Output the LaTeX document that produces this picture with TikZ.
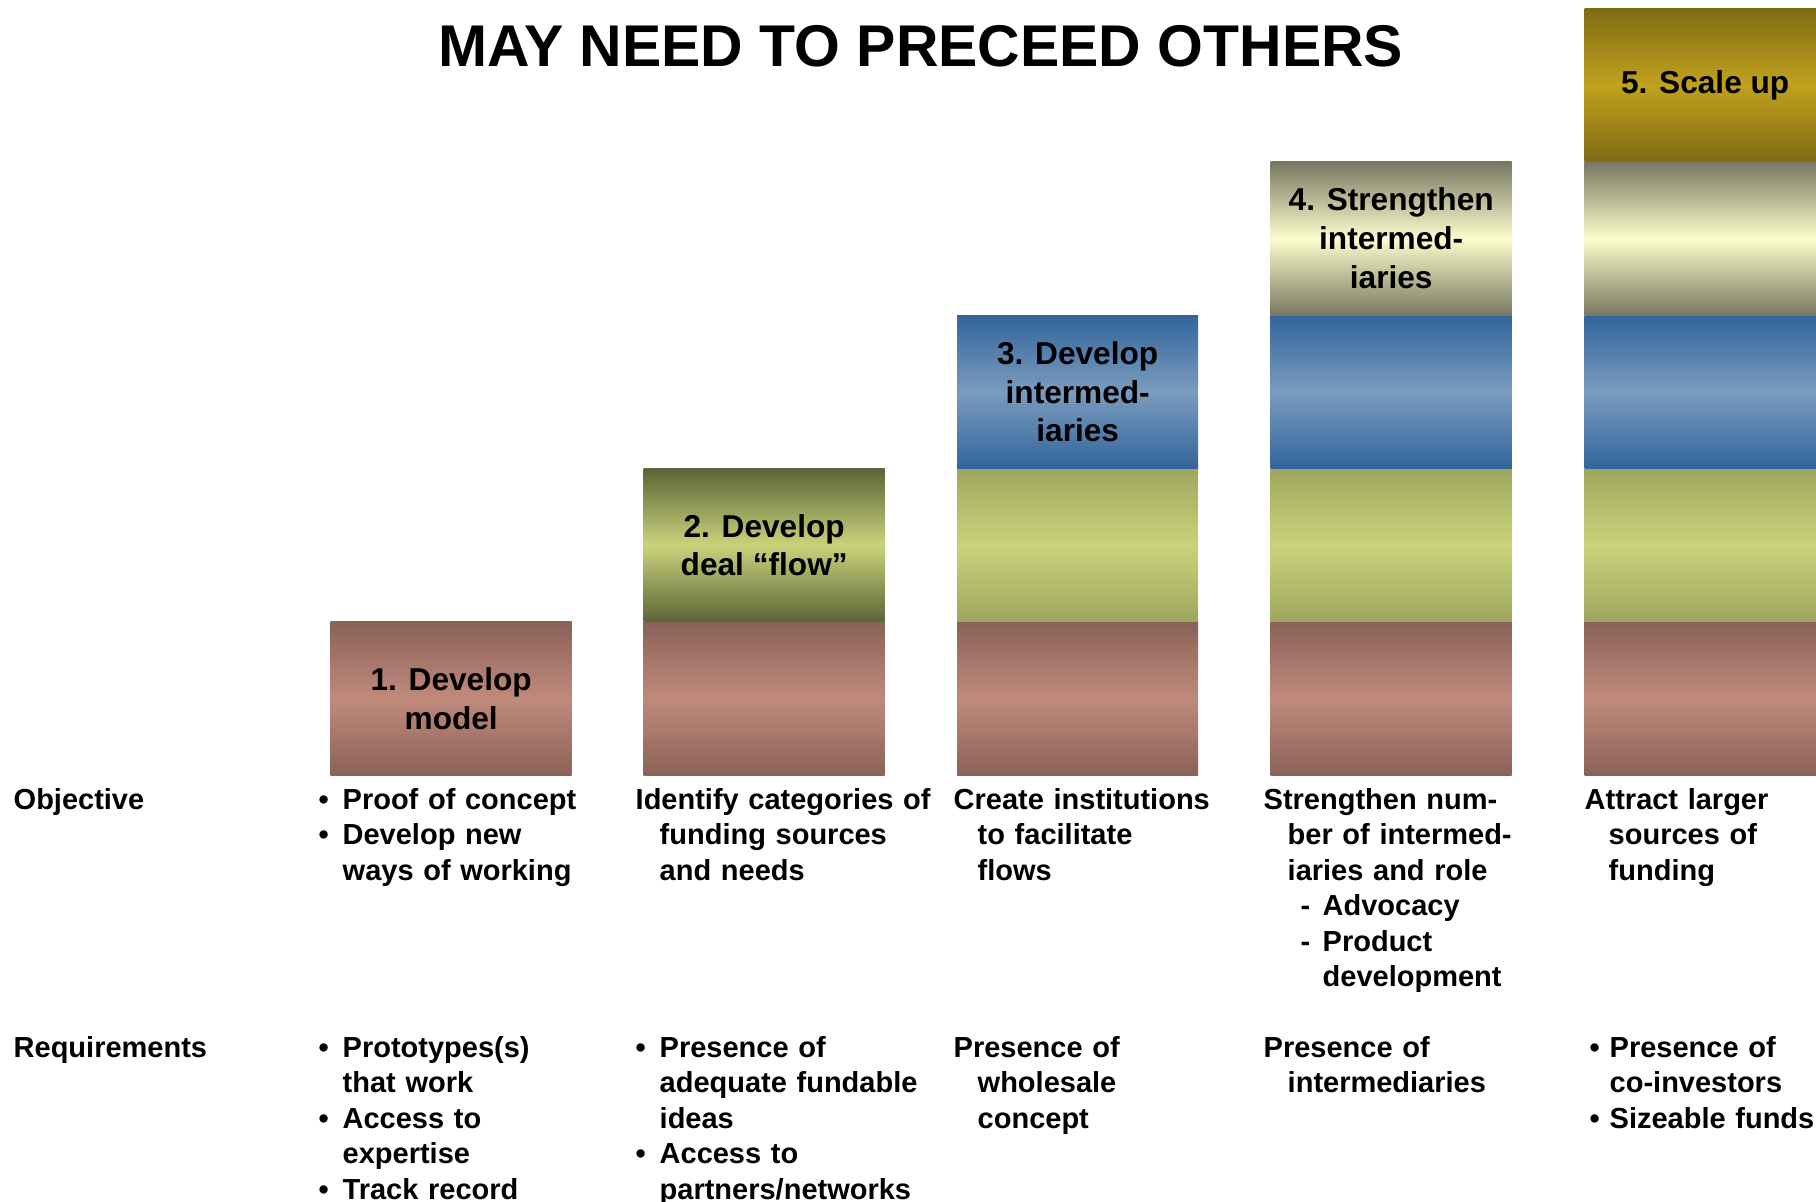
\documentclass[tikz,border=0pt]{standalone}
\usepackage{fontspec}
\setmainfont{Liberation Sans}
\usepackage{tikz}
\definecolor{brownedge}{RGB}{138,98,88}
\definecolor{brownmid}{RGB}{192,138,124}
\definecolor{olivedge}{RGB}{92,100,55}
\definecolor{greenedge}{RGB}{158,166,94}
\definecolor{greenmid}{RGB}{202,211,122}
\definecolor{blueedge}{RGB}{50,100,155}
\definecolor{bluemid}{RGB}{122,156,190}
\definecolor{creamedge}{RGB}{120,120,98}
\definecolor{creammid}{RGB}{252,252,205}
\definecolor{goldedge}{RGB}{128,106,20}
\definecolor{goldmid}{RGB}{192,162,30}
\newcommand{\bul}{\makebox[0.24cm][l]{\textbullet}}
\newcommand{\ind}{\hspace*{0.24cm}}

\begin{document}
\begin{tikzpicture}[x=1cm,y=-1cm,
    band/.style={minimum width=2.41cm, minimum height=1.534cm, inner sep=0pt, anchor=south west,
                 align=center, font=\fontsize{9}{11.04}\selectfont\bfseries},
    brownband/.style={band, top color=brownedge, bottom color=brownedge, middle color=brownmid},
    olivband/.style={band, top color=olivedge, bottom color=olivedge, middle color=greenmid},
    greenband/.style={band, top color=greenedge, bottom color=greenedge, middle color=greenmid},
    blueband/.style={band, top color=blueedge, bottom color=blueedge, middle color=bluemid},
    creamband/.style={band, top color=creamedge, bottom color=creamedge, middle color=creammid},
    goldband/.style={band, top color=goldedge, bottom color=goldedge, middle color=goldmid},
    txt/.style={anchor=base west, inner sep=0pt, text width=3.3cm, align=left,
                font=\fontsize{8.25}{10.1}\selectfont\bfseries}]
    \useasboundingbox (0,0) rectangle (18.16,12.01);
    \clip (0,0) rectangle (18.16,12.01);
    \node[font=\fontsize{16.75}{20}\selectfont\bfseries] (title) at (9.206,0.46) {MAY NEED TO PRECEED OTHERS};
    %
    % Stages
    \node[brownband] (s1) at (3.30,7.76) {1. Develop\\model};
    %
    \node[brownband] (s2a) at (6.43,7.76) {};
    \node[olivband]  (s2)  at (6.43,6.226) {2. Develop\\deal ``flow''};
    %
    \node[brownband] (s3a) at (9.565,7.76) {};
    \node[greenband] (s3b) at (9.565,6.226) {};
    \node[blueband]  (s3)  at (9.565,4.692) {3. Develop\\intermed-\\iaries};
    %
    \node[brownband] (s4a) at (12.70,7.76) {};
    \node[greenband] (s4b) at (12.70,6.226) {};
    \node[blueband]  (s4c) at (12.70,4.692) {};
    \node[creamband] (s4)  at (12.70,3.158) {4. Strengthen\\intermed-\\iaries};
    %
    \node[brownband] (s5a) at (15.84,7.76) {};
    \node[greenband] (s5b) at (15.84,6.226) {};
    \node[blueband]  (s5c) at (15.84,4.692) {};
    \node[creamband] (s5d) at (15.84,3.158) {};
    \node[goldband]  (s5)  at (15.84,1.624) {5. Scale up};
    %
    % Objective row
    \node[txt] (objlbl) at (0.13,8.09) {Objective};
    \node[txt] (obj1) at (3.18,8.09) {\bul Proof of concept\\\bul Develop new\\\ind ways of working};
    \node[txt] (obj2) at (6.35,8.09) {Identify categories of\\\ind funding sources\\\ind and needs};
    \node[txt] (obj3) at (9.53,8.09) {Create institutions\\\ind to facilitate\\\ind flows};
    \node[txt] (obj4) at (12.63,8.09) {Strengthen num-\\\ind ber of intermed-\\\ind iaries and role\\
        \hspace*{0.37cm}\makebox[0.22cm][l]{-}Advocacy\\\hspace*{0.37cm}\makebox[0.22cm][l]{-}Product\\
        \hspace*{0.59cm}development};
    \node[txt] (obj5) at (15.84,8.09) {Attract larger\\\ind sources of\\\ind funding};
    %
    % Requirements row
    \node[txt] (reqlbl) at (0.13,10.57) {Requirements};
    \node[txt] (req1) at (3.18,10.57) {\bul Prototypes(s)\\\ind that work\\\bul Access to\\\ind expertise\\\bul Track record};
    \node[txt] (req2) at (6.35,10.57) {\bul Presence of\\\ind adequate fundable\\\ind ideas\\\bul Access to\\\ind partners/networks};
    \node[txt] (req3) at (9.53,10.57) {Presence of\\\ind wholesale\\\ind concept};
    \node[txt] (req4) at (12.63,10.57) {Presence of\\\ind intermediaries};
    \node[txt] (req5) at (15.89,10.57) {\makebox[0.2cm][l]{\textbullet}Presence of\\\hspace*{0.2cm}co-investors\\
        \makebox[0.2cm][l]{\textbullet}Sizeable funds};
\end{tikzpicture}
\end{document}
